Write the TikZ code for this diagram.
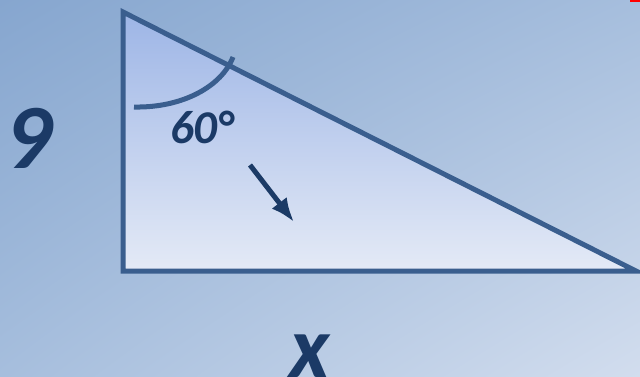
\documentclass[tikz,border=0pt]{standalone}
\usepackage{fontspec}
\setmainfont{Carlito}
\usetikzlibrary{arrows.meta,shadings}
\definecolor{bgA}{HTML}{86A6CF}
\definecolor{bgB}{HTML}{A6BEDD}
\definecolor{bgC}{HTML}{D2DDEE}
\definecolor{triTop}{HTML}{9DB5E6}
\definecolor{triBot}{HTML}{E4EAF6}
\definecolor{edge}{HTML}{3A5E8E}
\definecolor{ink}{HTML}{1B3A66}
\tikzset{
  edgeline/.style={draw=edge, line width=5pt, line join=miter},
  lbl/.style={text=ink, font=\bfseries\itshape, inner sep=0pt},
}
\begin{document}
\begin{tikzpicture}[x=1pt,y=-1pt]
\useasboundingbox (0,0) rectangle (640,376);
\shade[upper left=bgA, upper right=bgB, lower left=bgB, lower right=bgC] (0,0) rectangle (640,376);
\fill[red] (630,0) rectangle (640,1.5);
\coordinate (A) at (123,12);
\coordinate (B) at (123,271);
\coordinate (C) at (636,271);
\shade[top color=triTop, bottom color=triBot] (A) -- (B) -- (C) -- cycle;
\draw[edgeline] (A) -- (B) -- (C) -- cycle;
\coordinate (arcS) at (134,107);
\coordinate (arcE) at (233,57);
\draw[draw=edge, line width=5pt] (arcS) .. controls (183,108) and (222,86) .. (arcE);
\node[lbl, font=\fontsize{47}{47}\selectfont\bfseries\itshape] (ang) at (202,127) {60°};
\coordinate (arS) at (250,165);
\coordinate (arE) at (294,222);
\draw[draw=ink, line width=5pt, -{Latex[length=24pt,width=19pt]}] (arS) -- (arE);
\node[lbl, font=\fontsize{92}{92}\selectfont\bfseries\itshape] (nine) at (29,138) {9};
\node[lbl, font=\fontsize{88}{88}\selectfont\bfseries\itshape, anchor=base] (xx) at (310,377) {x};
\end{tikzpicture}
\end{document}
